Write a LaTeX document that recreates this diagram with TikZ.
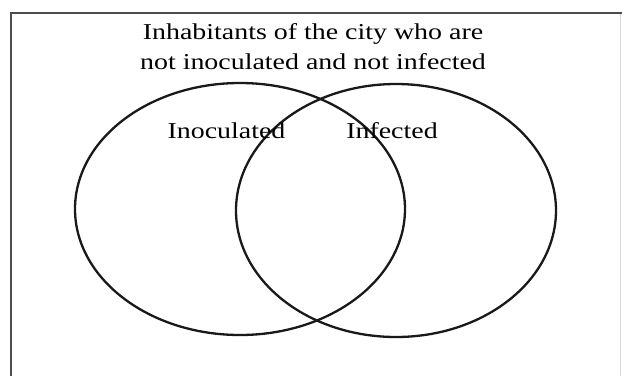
\documentclass[tikz,border=0pt]{standalone}
\usepackage{fontspec}
\setmainfont[FakeStretch=1.23]{Liberation Serif}
\begin{document}
\begin{tikzpicture}[x=1pt,y=-1pt,
  frameline/.style={draw=black!70,line width=2.5pt},
  setline/.style={draw=black!90,line width=2.3pt},
  lbl/.style={inner sep=0pt,anchor=base,font=\fontsize{22.7}{30}\selectfont}]
\useasboundingbox (0,0) rectangle (622,376);
\fill[white] (0,0) rectangle (622,376);
% frame (clipped at right and bottom)
\draw[frameline] (11,376) -- (11,13) -- (622,13);
\draw[black!15,line width=1pt] (620,14) -- (620,376);
% sets
\draw[setline] (240,209) ellipse [x radius=165, y radius=126];
\draw[setline] (396,210.5) ellipse [x radius=160, y radius=126.5];
% labels
\node[lbl] (u1) at (313,39) {Inhabitants of the city who are};
\node[lbl] (u2) at (313,69) {not inoculated and not infected};
\node[lbl] (ino) at (226.5,138) {Inoculated};
\node[lbl] (inf) at (392,138) {Infected};
\end{tikzpicture}
\end{document}
